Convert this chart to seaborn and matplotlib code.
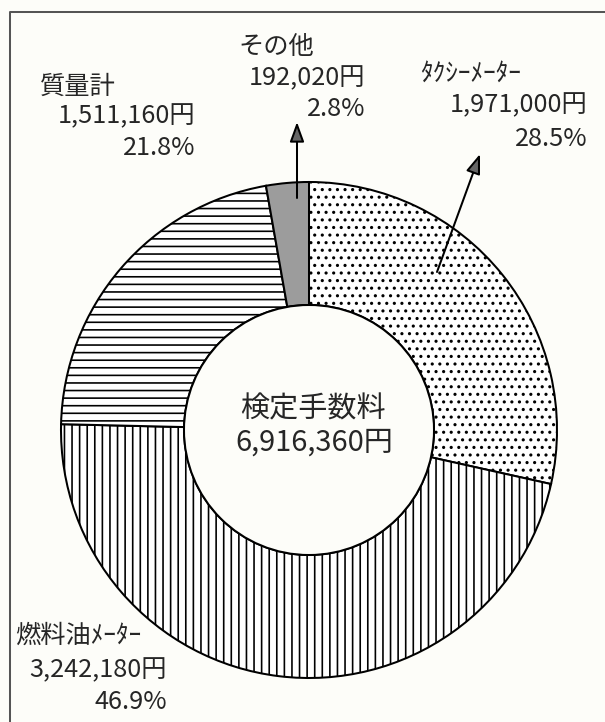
import numpy as np
import matplotlib
matplotlib.use("Agg")
import matplotlib.pyplot as plt
import seaborn as sns
from matplotlib.patches import Circle


# data (clockwise from 12 o'clock)
names = ["ﾀｸｼｰﾒｰﾀｰ", "燃料油ﾒｰﾀｰ", "質量計", "その他"]
fees = [1971000, 3242180, 1511160, 192020]
shares = [28.5, 46.9, 21.8, 2.8]
center_title = "検定手数料"
total_fee = 6916360

hatches = ["..", "||", "--", ""]
fills = ["white", "white", "white", "#9c9c9c"]

# label layout in pixels (x of name, right edge of numbers, y of the 3 lines)
label_pos = {
    "ﾀｸｼｰﾒｰﾀｰ": (420, 588, (74, 105, 139)),
    "燃料油ﾒｰﾀｰ": (15, 167, (636, 670, 702)),
    "質量計": (40, 195, (87, 116, 148)),
    "その他": (238, 365, (47, 78, 109)),
}


def main():
	sns.set_theme(style="white")
	plt.rcParams['font.family'] = ['Noto Sans CJK JP', 'DejaVu Sans']
	plt.rcParams['hatch.linewidth'] = 1.3

	dpi = 91
	fig = plt.figure(figsize=(605 / dpi, 722 / dpi), dpi=dpi)
	fig.patch.set_facecolor("#fdfdf9")
	ax = fig.add_axes([0, 0, 1, 1])
	ax.set_facecolor("#fdfdf9")

	cx, cy, r_out, r_in = 309, 430, 248, 125

	# y axis points down (pixel like), so counterclock=True draws clockwise on screen
	wedges, _ = ax.pie(fees, center=(cx, cy), radius=r_out, startangle=-90,
		counterclock=True, colors=fills,
		wedgeprops=dict(width=r_out - r_in, edgecolor="black", linewidth=1.6))
	for w, h in zip(wedges, hatches):
		w.set_hatch(h)

	ax.add_patch(Circle((cx, cy), r_in, facecolor="#fdfdf9", edgecolor="black", lw=1.6, zorder=3))

	ax.set_xlim(0, 605)
	ax.set_ylim(722, 0)
	ax.set_aspect("equal")
	ax.axis("off")

	# frame of the original figure (cut by the crop)
	ax.plot([10, 10, 610], [730, 12, 12], color="#555555", lw=1.6, clip_on=False)

	fs = 20
	for name, fee, pct in zip(names, fees, shares):
		xn, xr, ys = label_pos[name]
		ax.text(xn, ys[0], name, fontsize=fs, ha="left", va="center")
		ax.text(xr, ys[1], f"{fee:,}円", fontsize=fs, ha="right", va="center")
		ax.text(xr, ys[2], f"{pct:.1f}%", fontsize=fs, ha="right", va="center")

	ax.text(313, 409, center_title, fontsize=23, ha="center", va="center", zorder=4)
	ax.text(314, 443, f"{total_fee:,}円", fontsize=23, ha="center", va="center", zorder=4)

	arrow = dict(arrowstyle="-|>,head_length=1.1,head_width=0.4", facecolor="#666666",
		edgecolor="black", lw=1.6, shrinkA=0, shrinkB=0)
	ax.annotate("", xy=(297, 122), xytext=(297, 198), arrowprops=arrow, zorder=5)
	ax.annotate("", xy=(480, 154), xytext=(437, 272), arrowprops=arrow, zorder=5)

	fig.savefig("out.png", dpi=dpi, facecolor=fig.get_facecolor())


if __name__ == "__main__":
	main()
